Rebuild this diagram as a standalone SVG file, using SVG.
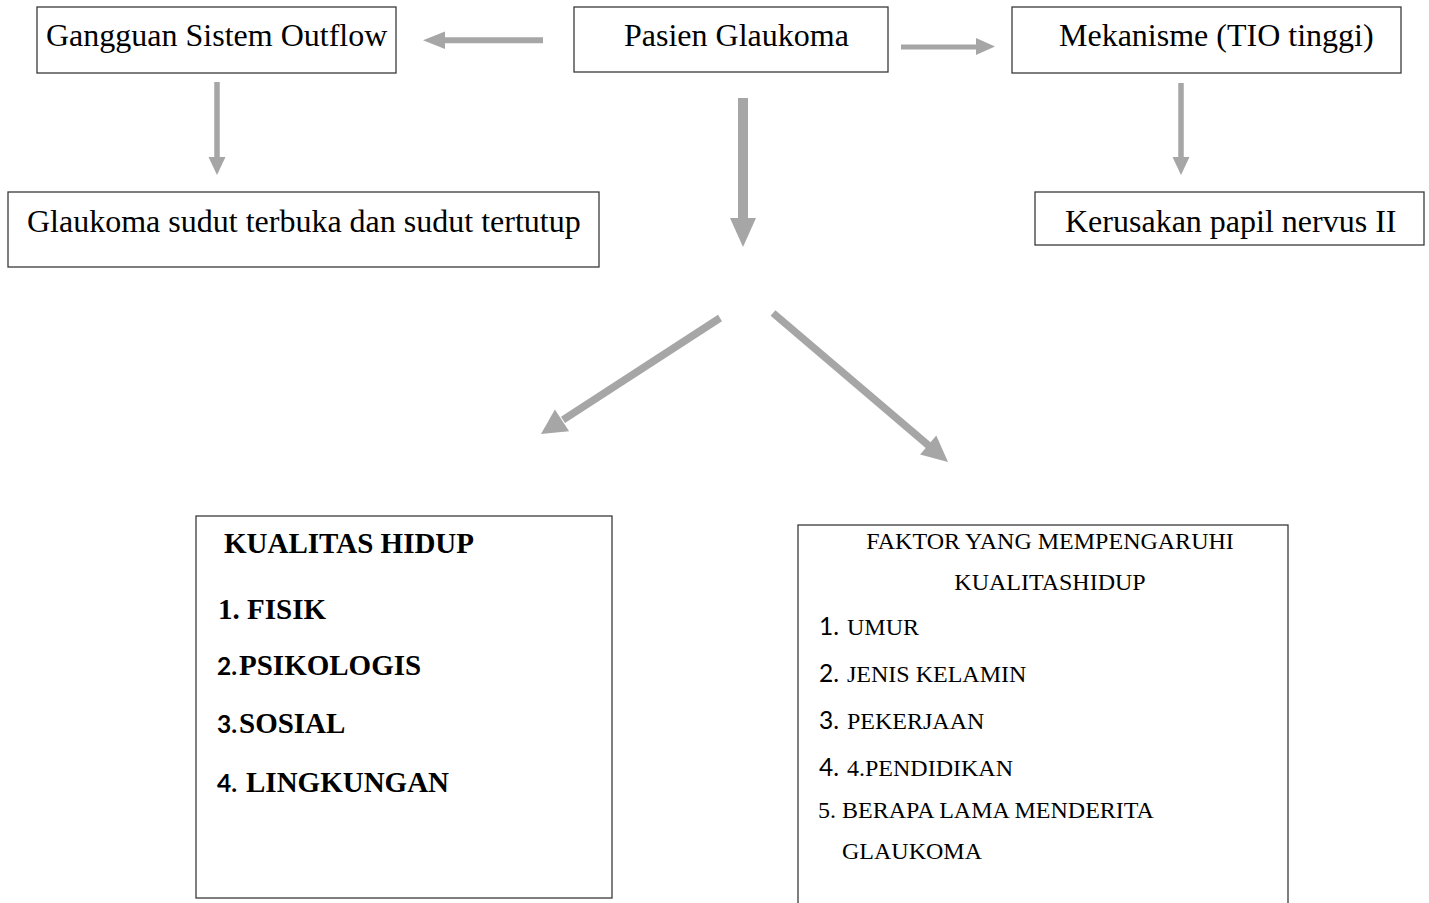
<svg xmlns="http://www.w3.org/2000/svg" width="1429" height="903" viewBox="0 0 1429 903">
<style>
.box{fill:#ffffff;stroke:#3a3a3a;stroke-width:1.3}
.t{font-family:"Liberation Serif","Times New Roman",serif;fill:#000}
.top{font-size:32px}
.b{font-family:"Liberation Serif","Times New Roman",serif;font-weight:bold;font-size:29px;fill:#000}
.sb{font-family:Lato,"Liberation Sans",sans-serif;font-weight:bold;font-size:24.5px}
.r{font-family:"Liberation Serif","Times New Roman",serif;font-size:24px;fill:#000}
.sn{font-family:Lato,"Liberation Sans",sans-serif;font-size:24.5px}
.sh{stroke:#a6a6a6;fill:none;stroke-linecap:butt}
.hd{fill:#a6a6a6;stroke:none}
</style>
<rect x="0" y="0" width="1429" height="903" fill="#ffffff"/>
<g id="connectors">
  <line class="sh" x1="543" y1="40.3" x2="444" y2="40.3" stroke-width="6"/>
  <polygon class="hd" points="423,40.3 445,31.5 445,49"/>
  <line class="sh" x1="901" y1="47" x2="977" y2="47" stroke-width="5"/>
  <polygon class="hd" points="995,46.5 976,38 976,55"/>
  <line class="sh" x1="217" y1="82" x2="217" y2="158" stroke-width="5.5"/>
  <polygon class="hd" points="217,175 208.5,157 225.5,157"/>
  <line class="sh" x1="1181" y1="83" x2="1181" y2="158" stroke-width="5.5"/>
  <polygon class="hd" points="1181,175 1172.5,157 1189.5,157"/>
  <line class="sh" x1="743" y1="98" x2="743" y2="219" stroke-width="10"/>
  <polygon class="hd" points="743,247 730,218 756,218"/>
  <line class="sh" x1="720" y1="318" x2="563" y2="419.8" stroke-width="7.5"/>
  <polygon class="hd" points="541,434 569.1,431.3 554.9,409.5"/>
  <line class="sh" x1="773" y1="313" x2="929" y2="445.8" stroke-width="7.5"/>
  <polygon class="hd" points="948,462 920.1,454.6 936.3,435.6"/>
</g>
<g id="node-gangguan">
  <rect class="box" x="37" y="7" width="359" height="66"/>
  <text class="t top" x="46" y="46" font-size="31.5">Gangguan Sistem Outflow</text>
</g>
<g id="node-pasien">
  <rect class="box" x="574" y="7" width="314" height="65"/>
  <text class="t top" x="624" y="46">Pasien Glaukoma</text>
</g>
<g id="node-mekanisme">
  <rect class="box" x="1012" y="7" width="389" height="66"/>
  <text class="t top" x="1059" y="46">Mekanisme (TIO tinggi)</text>
</g>
<g id="node-glaukoma-sudut">
  <rect class="box" x="8" y="192" width="591" height="75"/>
  <text class="t top" x="27" y="231.5">Glaukoma sudut terbuka dan sudut tertutup</text>
</g>
<g id="node-kerusakan">
  <rect class="box" x="1035" y="192" width="389" height="53"/>
  <text class="t top" x="1065" y="231.5">Kerusakan papil nervus II</text>
</g>
<g id="node-kualitas">
  <rect class="box" x="196" y="516" width="416" height="382"/>
  <text class="b" x="224" y="553">KUALITAS HIDUP</text>
  <text class="b" x="218" y="619">1. FISIK</text>
  <text class="b" y="675"><tspan class="sb" x="217">2.</tspan><tspan x="239">PSIKOLOGIS</tspan></text>
  <text class="b" y="733"><tspan class="sb" x="217">3.</tspan><tspan x="239">SOSIAL</tspan></text>
  <text class="b" y="792"><tspan class="sb" x="217">4.</tspan><tspan x="246">LINGKUNGAN</tspan></text>
</g>
<g id="node-faktor">
  <rect class="box" x="798" y="525" width="490" height="390"/>
  <text class="r" x="1050" y="549" text-anchor="middle">FAKTOR YANG MEMPENGARUHI</text>
  <text class="r" x="1050" y="590" text-anchor="middle">KUALITASHIDUP</text>
  <text class="r" y="635"><tspan class="sn" x="819">1.</tspan><tspan x="847">UMUR</tspan></text>
  <text class="r" y="682"><tspan class="sn" x="819">2.</tspan><tspan x="847">JENIS KELAMIN</tspan></text>
  <text class="r" y="729"><tspan class="sn" x="819">3.</tspan><tspan x="847">PEKERJAAN</tspan></text>
  <text class="r" y="776"><tspan class="sn" x="819">4.</tspan><tspan x="847">4.PENDIDIKAN</tspan></text>
  <text class="r" x="818" y="818">5. BERAPA LAMA MENDERITA</text>
  <text class="r" x="842" y="859">GLAUKOMA</text>
</g>
</svg>
